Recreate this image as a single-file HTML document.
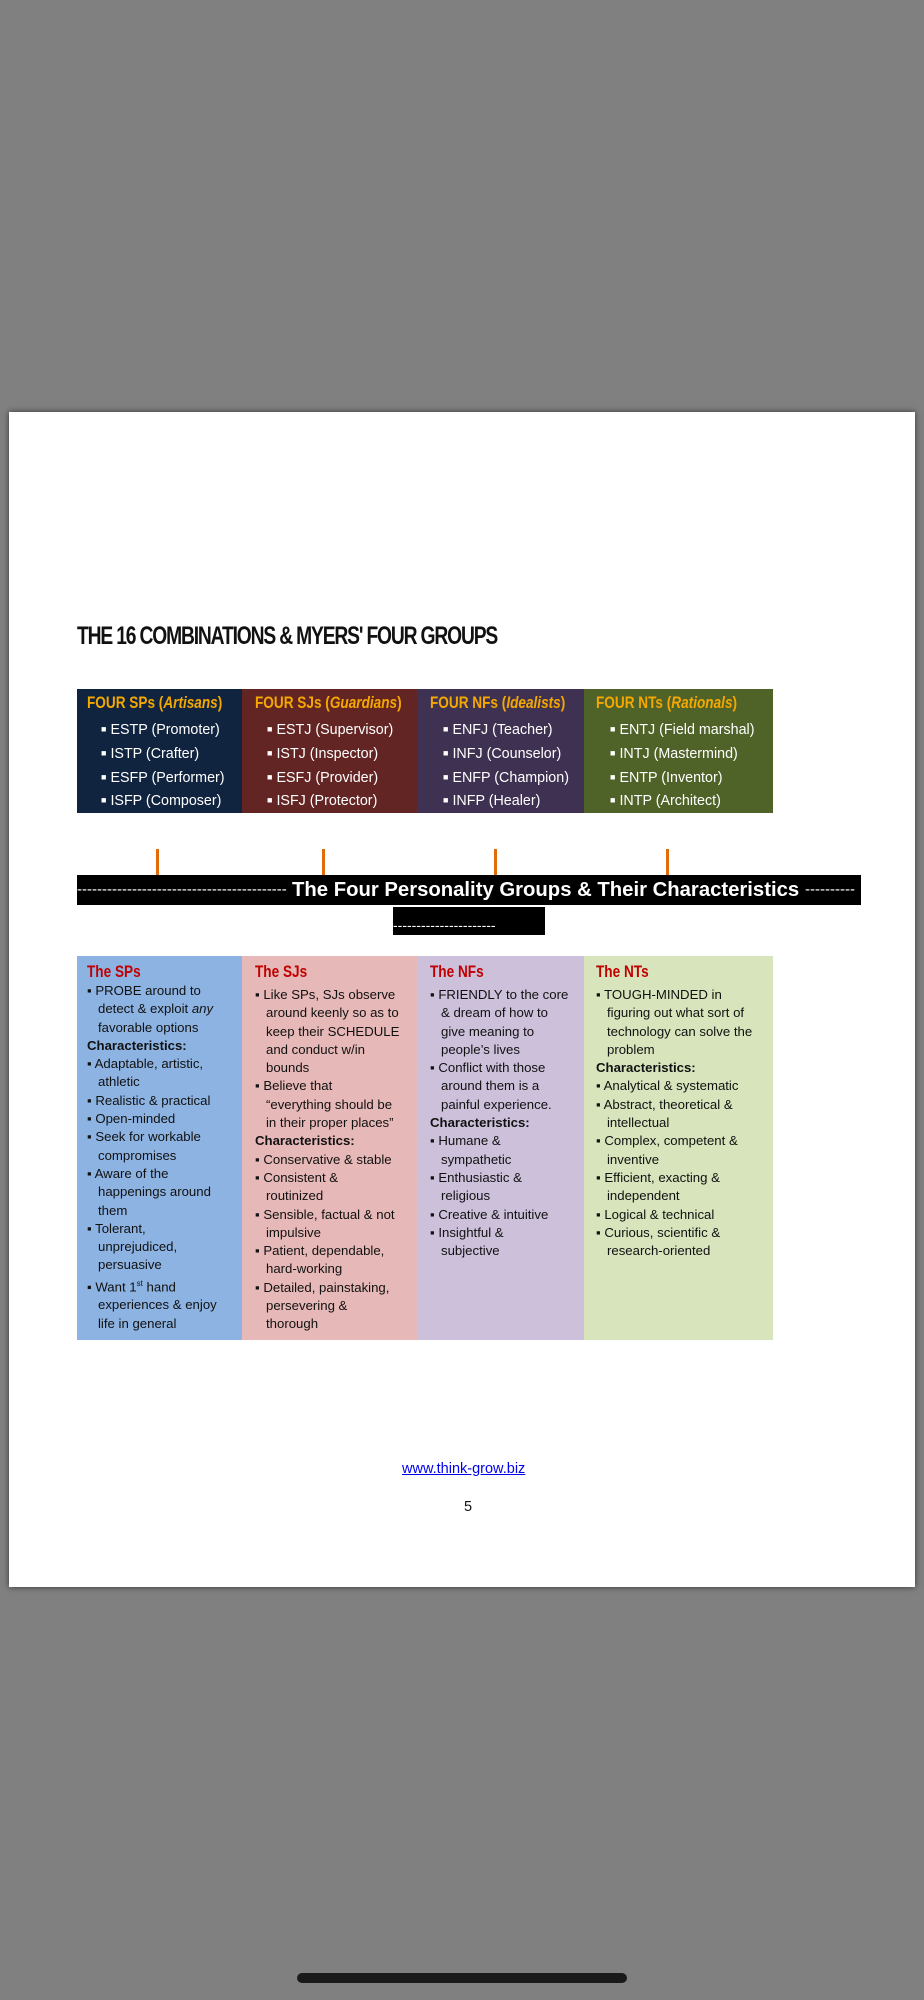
<!DOCTYPE html>
<html><head><meta charset="utf-8"><style>
*{margin:0;padding:0;box-sizing:border-box}
body{width:924px;height:2000px;background:#808080;position:relative;overflow:hidden;font-family:"Liberation Sans",sans-serif}
#page{position:absolute;left:9px;top:412px;width:906px;height:1175px;background:#fff;box-shadow:0 0 6px rgba(0,0,0,.6)}
.a{position:absolute;white-space:nowrap}
.title{left:77px;top:622px;font-size:25px;font-weight:bold;letter-spacing:-1.5px;transform:scaleX(.77);transform-origin:left;color:#111}
.col{position:absolute}
.hd{font-weight:bold;color:#f5a800;font-size:17px;transform:scaleX(.8);transform-origin:left}
.tl{color:#fff;font-size:14.3px}
.bl{font-size:13.2px;color:#111;line-height:18.3px}
.rh{color:#c00000;font-weight:bold;font-size:17px;transform:scaleX(.8);transform-origin:left}
.tick{position:absolute;width:3px;height:26px;background:#e36c0a;top:849px}
.b{font-size:9px;vertical-align:2px;margin-right:4px}
</style></head><body>
<div id="page"></div>
<div class="a title">THE 16 COMBINATIONS &amp; MYERS' FOUR GROUPS</div>

<div class="col" style="left:77px;top:689px;width:165px;height:124px;background:#10243f"></div>
<div class="col" style="left:242px;top:689px;width:175px;height:124px;background:#632523"></div>
<div class="col" style="left:417px;top:689px;width:167px;height:124px;background:#3f3151"></div>
<div class="col" style="left:584px;top:689px;width:189px;height:124px;background:#4f6228"></div>

<div class="a hd" style="left:87px;top:693px">FOUR SPs (<i>Artisans</i>)</div>
<div class="a hd" style="left:255px;top:693px">FOUR SJs (<i>Guardians</i>)</div>
<div class="a hd" style="left:430px;top:693px">FOUR NFs (<i>Idealists</i>)</div>
<div class="a hd" style="left:596px;top:693px">FOUR NTs (<i>Rationals</i>)</div>

<div class="a tl" style="left:101px;top:718px;line-height:22.8px"><span class="b">■</span>ESTP (Promoter)<br><span class="b">■</span>ISTP (Crafter)<br><span class="b">■</span>ESFP (Performer)<br><span class="b">■</span>ISFP (Composer)</div>
<div class="a tl" style="left:267px;top:718px;line-height:22.8px"><span class="b">■</span>ESTJ (Supervisor)<br><span class="b">■</span>ISTJ (Inspector)<br><span class="b">■</span>ESFJ (Provider)<br><span class="b">■</span>ISFJ (Protector)</div>
<div class="a tl" style="left:443px;top:718px;line-height:22.8px"><span class="b">■</span>ENFJ (Teacher)<br><span class="b">■</span>INFJ (Counselor)<br><span class="b">■</span>ENFP (Champion)<br><span class="b">■</span>INFP (Healer)</div>
<div class="a tl" style="left:610px;top:718px;line-height:22.8px"><span class="b">■</span>ENTJ (Field marshal)<br><span class="b">■</span>INTJ (Mastermind)<br><span class="b">■</span>ENTP (Inventor)<br><span class="b">■</span>INTP (Architect)</div>

<div class="tick" style="left:156px"></div>
<div class="tick" style="left:322px"></div>
<div class="tick" style="left:494px"></div>
<div class="tick" style="left:666px"></div>

<div class="a" style="left:77px;top:875px;width:784px;height:30px;background:#000;color:#fff;line-height:30px;overflow:hidden">
<span style="position:absolute;left:0;top:0;width:210px;overflow:hidden;font-size:15px">----------------------------------------------</span>
<span style="position:absolute;left:215px;top:0;font-size:20.3px;font-weight:bold">The Four Personality Groups &amp; Their Characteristics</span>
<span style="position:absolute;left:728px;top:0;font-size:15px">----------</span>
</div>
<div class="a" style="left:393px;top:907px;width:152px;height:28px;background:#000;color:#fff;font-size:14px;line-height:36px;overflow:hidden">----------------------</div>

<div class="col" style="left:77px;top:956px;width:165px;height:384px;background:#8db3e2"></div>
<div class="col" style="left:242px;top:956px;width:175px;height:384px;background:#e6b8b7"></div>
<div class="col" style="left:417px;top:956px;width:167px;height:384px;background:#ccc0da"></div>
<div class="col" style="left:584px;top:956px;width:189px;height:384px;background:#d7e4bc"></div>

<div class="a rh" style="left:87px;top:962px">The SPs</div>
<div class="a rh" style="left:255px;top:962px">The SJs</div>
<div class="a rh" style="left:430px;top:962px">The NFs</div>
<div class="a rh" style="left:596px;top:962px">The NTs</div>

<div class="a bl" style="left:87px;top:982px">
▪ PROBE around to<br>&nbsp;&nbsp;&nbsp;detect &amp; exploit <i>any</i><br>&nbsp;&nbsp;&nbsp;favorable options<br><b>Characteristics:</b><br>▪ Adaptable, artistic,<br>&nbsp;&nbsp;&nbsp;athletic<br>▪ Realistic &amp; practical<br>▪ Open-minded<br>▪ Seek for workable<br>&nbsp;&nbsp;&nbsp;compromises<br>▪ Aware of the<br>&nbsp;&nbsp;&nbsp;happenings around<br>&nbsp;&nbsp;&nbsp;them<br>▪ Tolerant,<br>&nbsp;&nbsp;&nbsp;unprejudiced,<br>&nbsp;&nbsp;&nbsp;persuasive<br>▪ Want 1<sup style="font-size:8px">st</sup> hand<br>&nbsp;&nbsp;&nbsp;experiences &amp; enjoy<br>&nbsp;&nbsp;&nbsp;life in general</div>

<div class="a bl" style="left:255px;top:986px">
▪ Like SPs, SJs observe<br>&nbsp;&nbsp;&nbsp;around keenly so as to<br>&nbsp;&nbsp;&nbsp;keep their SCHEDULE<br>&nbsp;&nbsp;&nbsp;and conduct w/in<br>&nbsp;&nbsp;&nbsp;bounds<br>▪ Believe that<br>&nbsp;&nbsp;&nbsp;“everything should be<br>&nbsp;&nbsp;&nbsp;in their proper places”<br><b>Characteristics:</b><br>▪ Conservative &amp; stable<br>▪ Consistent &amp;<br>&nbsp;&nbsp;&nbsp;routinized<br>▪ Sensible, factual &amp; not<br>&nbsp;&nbsp;&nbsp;impulsive<br>▪ Patient, dependable,<br>&nbsp;&nbsp;&nbsp;hard-working<br>▪ Detailed, painstaking,<br>&nbsp;&nbsp;&nbsp;persevering &amp;<br>&nbsp;&nbsp;&nbsp;thorough</div>

<div class="a bl" style="left:430px;top:986px">
▪ FRIENDLY to the core<br>&nbsp;&nbsp;&nbsp;&amp; dream of how to<br>&nbsp;&nbsp;&nbsp;give meaning to<br>&nbsp;&nbsp;&nbsp;people’s lives<br>▪ Conflict with those<br>&nbsp;&nbsp;&nbsp;around them is a<br>&nbsp;&nbsp;&nbsp;painful experience.<br><b>Characteristics:</b><br>▪ Humane &amp;<br>&nbsp;&nbsp;&nbsp;sympathetic<br>▪ Enthusiastic &amp;<br>&nbsp;&nbsp;&nbsp;religious<br>▪ Creative &amp; intuitive<br>▪ Insightful &amp;<br>&nbsp;&nbsp;&nbsp;subjective</div>

<div class="a bl" style="left:596px;top:986px">
▪ TOUGH-MINDED in<br>&nbsp;&nbsp;&nbsp;figuring out what sort of<br>&nbsp;&nbsp;&nbsp;technology can solve the<br>&nbsp;&nbsp;&nbsp;problem<br><b>Characteristics:</b><br>▪ Analytical &amp; systematic<br>▪ Abstract, theoretical &amp;<br>&nbsp;&nbsp;&nbsp;intellectual<br>▪ Complex, competent &amp;<br>&nbsp;&nbsp;&nbsp;inventive<br>▪ Efficient, exacting &amp;<br>&nbsp;&nbsp;&nbsp;independent<br>▪ Logical &amp; technical<br>▪ Curious, scientific &amp;<br>&nbsp;&nbsp;&nbsp;research-oriented</div>

<div class="a" style="left:402px;top:1461px;font-size:14.5px;color:#0000ee;text-decoration:underline">www.think-grow.biz</div>
<div class="a" style="left:464px;top:1499px;font-size:14.5px;color:#111">5</div>

<div class="a" style="left:297px;top:1973px;width:330px;height:10px;border-radius:5px;background:#1a1a1a"></div>
</body></html>
